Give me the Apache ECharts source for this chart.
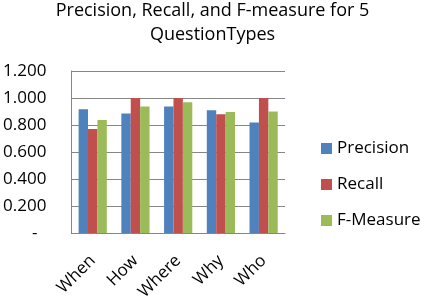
<!DOCTYPE html>
<html>
<head>
<meta charset="utf-8">
<script src="https://cdn.jsdelivr.net/npm/echarts@6/dist/echarts.min.js"></script>
<style>
  html, body { margin: 0; padding: 0; background: #fff; }
  #chart { width: 425px; height: 303px; }
</style>
</head>
<body>
<div id="chart"></div>
<script>
// question types and scores
const questionTypes = ['When', 'How', 'Where', 'Why', 'Who'];
const precision = [0.916, 0.885, 0.937, 0.909, 0.818];
const recall = [0.770, 1.000, 1.000, 0.880, 1.000];
const fMeasure = [0.837, 0.937, 0.969, 0.897, 0.900];

const font = 'Open Sans';

const chart = echarts.init(document.getElementById('chart'));
chart.setOption({
  animation: false,
  color: ['#4F81BD', '#C0504D', '#9BBB59'],
  title: {
    text: 'Precision, Recall, and F-measure for 5\nQuestionTypes',
    left: 'center',
    top: -6,
    textStyle: { fontFamily: font, fontSize: 18, fontWeight: 'normal', color: '#000', lineHeight: 24 }
  },
  legend: {
    orient: 'vertical',
    left: 316,
    top: 135,
    itemWidth: 11,
    itemHeight: 11,
    itemGap: 19,
    itemStyle: { borderWidth: 0 },
    icon: 'rect',
    textStyle: { fontFamily: font, fontSize: 17, color: '#000' },
    data: ['Precision', 'Recall', 'F-Measure']
  },
  grid: { left: 70, right: 140, top: 71, bottom: 65 },
  xAxis: {
    type: 'category',
    data: questionTypes,
    axisLine: { lineStyle: { color: '#868686' } },
    axisTick: { show: false },
    axisLabel: { rotate: 45, fontFamily: font, fontSize: 17, color: '#000', margin: 25 }
  },
  yAxis: {
    type: 'value',
    min: 0,
    max: 1.2,
    interval: 0.2,
    axisLine: { show: true, lineStyle: { color: '#868686' } },
    axisTick: { show: false },
    splitLine: { lineStyle: { color: '#868686' } },
    axisLabel: {
      fontFamily: font, fontSize: 17, color: '#000', margin: 25,
      formatter: v => v === 0 ? '{d|-}' : v.toFixed(3),
      rich: { d: { fontFamily: font, fontSize: 17, color: '#000', padding: [0, 9, 0, 0] } }
    }
  },
  series: [
    { name: 'Precision', type: 'bar', data: precision, barGap: '0%', barCategoryGap: '34%' },
    { name: 'Recall', type: 'bar', data: recall },
    { name: 'F-Measure', type: 'bar', data: fMeasure }
  ]
});
</script>
</body>
</html>
